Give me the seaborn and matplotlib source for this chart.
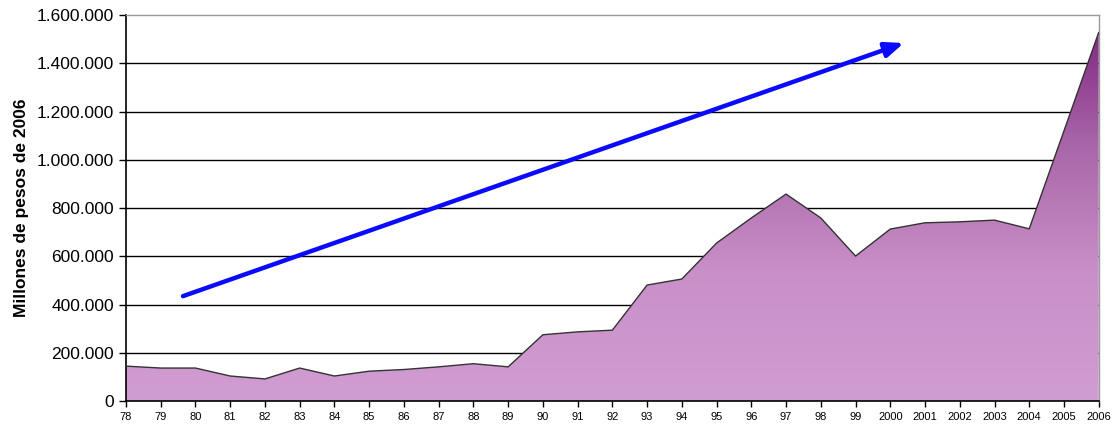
import numpy as np
import pandas as pd
import matplotlib
matplotlib.use('Agg')
import matplotlib.pyplot as plt
from matplotlib.ticker import FuncFormatter
import seaborn as sns

# data (millions of 2006 pesos)
years = ['78', '79', '80', '81', '82', '83', '84', '85', '86', '87', '88', '89',
         '90', '91', '92', '93', '94', '95', '96', '97', '98', '99',
         '2000', '2001', '2002', '2003', '2004', '2005', '2006']
values = [145000, 137000, 137000, 104000, 92000, 137000, 104000, 124000, 131000,
          142000, 155000, 142000, 275000, 287000, 294000, 481000, 506000, 655000,
          759000, 858000, 759000, 601000, 713000, 739000, 743000, 750000, 714000,
          1120000, 1528000]
# trend arrow (start / end, in year-index and value)
arrow_start = (1.64, 435000)
arrow_end = (22.39, 1484000)

df = pd.DataFrame({'year': years, 'value': values})
df['pos'] = np.arange(len(df))

sns.set_style('white')
plt.rcParams['font.family'] = ['Liberation Sans', 'DejaVu Sans']

fig, ax = plt.subplots(figsize=(11.2, 4.29), dpi=100)
fig.subplots_adjust(left=0.1125, right=0.981, top=0.965, bottom=0.065)

ymax = 1600000
ax.set_xlim(0, len(df) - 1)
ax.set_ylim(0, ymax)

# grid lines
for yv in range(200000, ymax, 200000):
    ax.axhline(yv, color='black', lw=1.0, zorder=1)

# gradient fill clipped by the area polygon
poly = ax.fill_between(df['pos'], df['value'], 0, color='none', zorder=2)
cmap = matplotlib.colors.LinearSegmentedColormap.from_list(
    'purp', ['#d09dd2', '#c98fc8', '#a866a8', '#7d1f7d'])
grad = np.linspace(0, 1, 256).reshape(-1, 1)
img = ax.imshow(grad, cmap=cmap, origin='lower', aspect='auto',
                extent=(0, len(df) - 1, 0, ymax), zorder=2)
img.set_clip_path(poly.get_paths()[0], transform=ax.transData)

sns.lineplot(data=df, x='pos', y='value', color='#333333', lw=1.0, ax=ax, zorder=3)

ax.annotate('', xy=arrow_end, xytext=arrow_start,
            arrowprops=dict(arrowstyle='-|>,head_length=1.1,head_width=0.45',
                            color='#0a0aff', lw=3.2, shrinkA=0, shrinkB=0),
            zorder=4)

ax.set_xticks(df['pos'])
ax.set_xticklabels(df['year'], fontsize=8)
ax.set_yticks(range(0, ymax + 1, 200000))
ax.yaxis.set_major_formatter(FuncFormatter(lambda v, p: f'{int(v):,}'.replace(',', '.')))
ax.tick_params(axis='y', labelsize=12.5, length=5, width=1, direction='out', left=True,
               color='black', labelcolor='black')
ax.tick_params(axis='x', length=4, width=1, direction='out', bottom=True,
               color='black', labelcolor='black')
ax.set_xlabel('')
ax.set_ylabel('Millones de pesos de 2006', fontsize=12.5, fontweight='bold',
              labelpad=6, color='black')

for side in ['left', 'bottom']:
    ax.spines[side].set_color('black')
    ax.spines[side].set_linewidth(1.2)
for side in ['top', 'right']:
    ax.spines[side].set_color('#999999')
    ax.spines[side].set_linewidth(1.0)

fig.savefig('out.png', dpi=100)
